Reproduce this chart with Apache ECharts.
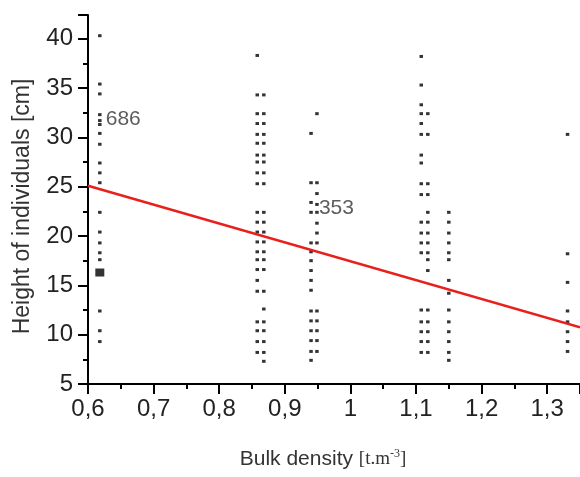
<!DOCTYPE html>
<html>
<head>
<meta charset="utf-8">
<script src="https://cdn.jsdelivr.net/npm/echarts/dist/echarts.min.js"></script>
<style>
  html, body { margin: 0; padding: 0; background: #fff; }
  #chart { width: 580px; height: 477px; }
</style>
</head>
<body>
<div id="chart"></div>
<script>
// bulk density columns (x) and the heights (y)
var col062X = 0.618;
var col062Y = [40.3, 35.4, 34.4, 32.3, 31.7, 31.3, 30.4, 29.3, 27.4, 26.4, 25.4, 22.4, 20.4, 19.3, 18.3, 17.6, 12.4, 10.4, 9.3];
var col086aX = 0.858;
var col086aY = [38.3, 34.3, 32.4, 31.4, 30.3, 29.4, 28.2, 27.5, 26.4, 25.3, 22.4, 21.4, 20.4, 19.4, 18.4, 17.6, 16.6, 15.5, 14.4, 11.3, 10.4, 9.3, 8.2];
var col086bX = 0.868;
var col086bY = [34.3, 32.4, 31.4, 30.3, 29.4, 28.2, 27.5, 26.4, 25.3, 22.4, 21.4, 20.4, 19.4, 18.4, 17.6, 16.6, 14.4, 12.6, 11.3, 10.4, 9.3, 8.2, 7.3];
var col094aX = 0.940;
var col094aY = [30.4, 25.4, 23.4, 22.4, 19.3, 18.4, 17.5, 16.5, 15.5, 14.5, 12.4, 11.4, 10.4, 9.4, 8.3, 7.4];
var col094bX = 0.949;
var col094bY = [32.4, 25.4, 24.3, 23.2, 22.4, 21.3, 20.3, 19.3, 12.4, 11.4, 10.4, 9.4, 8.3];
var col111aX = 1.108;
var col111aY = [38.2, 35.3, 33.3, 32.4, 31.4, 30.3, 28.2, 27.4, 25.3, 24.2, 21.4, 20.3, 19.3, 18.3, 12.5, 11.3, 10.3, 9.3, 8.2];
var col111bX = 1.118;
var col111bY = [32.4, 30.3, 25.3, 24.2, 22.4, 21.4, 20.3, 19.3, 18.3, 17.6, 16.5, 12.5, 11.3, 10.3, 9.3, 8.2];
var col115X = 1.150;
var col115Y = [22.4, 21.4, 20.3, 19.3, 18.3, 17.6, 15.5, 14.2, 12.5, 11.3, 10.3, 9.3, 8.2, 7.4];
var col133X = 1.331;
var col133Y = [30.3, 18.2, 15.3, 12.4, 11.3, 10.3, 9.3, 8.3];

// overlapping points drawn as one big square
var denseX = [0.618];
var denseY = [16.3];

// regression line end points
var fitX = [0.6, 1.35];
var fitY = [25.1, 10.75];

// sample counts written in the plot
var noteX = [0.627, 0.952];
var noteY = [31.8, 22.8];
var noteText = ['686', '353'];

var columns = [
    [col062X, col062Y], [col086aX, col086aY], [col086bX, col086bY],
    [col094aX, col094aY], [col094bX, col094bY], [col111aX, col111aY],
    [col111bX, col111bY], [col115X, col115Y], [col133X, col133Y]
];
var points = [];
columns.forEach(function (c) {
    c[1].forEach(function (y) { points.push([c[0], y]); });
});

function comma(v) {
    return String(+v.toFixed(2)).replace('.', ',');
}

var chart = echarts.init(document.getElementById('chart'));
chart.setOption({
    animation: false,
    grid: { left: 88, right: 0, top: 15, bottom: 93, outerBoundsMode: 'none' },
    xAxis: {
        type: 'value',
        min: 0.6, max: 1.35, interval: 0.1,
        name: '{a|Bulk density }{b|[t.m}{c|-3}{b|]}',
        nameLocation: 'middle',
        nameGap: 64,
        nameTextStyle: {
            padding: [0, 22, 0, 0],
            rich: {
                a: { fontFamily: 'Liberation Sans', fontSize: 21, color: '#333' },
                b: { fontFamily: 'Liberation Serif', fontSize: 19, color: '#333' },
                c: { fontFamily: 'Liberation Serif', fontSize: 12, color: '#333', padding: [0, 0, 10, 0] }
            }
        },
        splitLine: { show: false },
        axisLine: { lineStyle: { color: '#000', width: 2 } },
        axisTick: { length: 10, inside: false, lineStyle: { color: '#000', width: 2 } },
        minorTick: { show: true, splitNumber: 2, length: 5, lineStyle: { color: '#000', width: 2 } },
        axisLabel: {
            margin: 13, fontSize: 24, fontFamily: 'Liberation Sans', color: '#222',
            showMaxLabel: false, formatter: comma
        }
    },
    yAxis: {
        type: 'value',
        min: 5, max: 42.4, interval: 5,
        name: 'Height of individuals [cm]',
        nameLocation: 'middle',
        nameGap: 54,
        nameTextStyle: { fontFamily: 'Liberation Sans', fontSize: 23, color: '#333', padding: [0, 14, 0, 0] },
        splitLine: { show: false },
        axisLine: { show: true, lineStyle: { color: '#000', width: 2 } },
        axisTick: { show: true, length: 10, lineStyle: { color: '#000', width: 2 } },
        minorTick: { show: true, splitNumber: 2, length: 5, lineStyle: { color: '#000', width: 2 } },
        axisLabel: {
            margin: 15, fontSize: 24, fontFamily: 'Liberation Sans', color: '#222',
            showMaxLabel: false
        }
    },
    series: [
        {
            type: 'scatter',
            symbol: 'rect',
            symbolSize: [3.5, 3],
            itemStyle: { color: '#000' },
            data: points
        },
        {
            type: 'scatter',
            symbol: 'rect',
            symbolSize: [9, 8],
            itemStyle: { color: '#000' },
            data: denseX.map(function (x, i) { return [x, denseY[i]]; })
        },
        {
            type: 'line',
            symbol: 'none',
            lineStyle: { color: '#e8201c', width: 2.5 },
            data: fitX.map(function (x, i) { return [x, fitY[i]]; }),
            z: 3
        },
        {
            type: 'scatter',
            symbolSize: 0,
            data: noteX.map(function (x, i) { return [x, noteY[i], noteText[i]]; }),
            label: {
                show: true, position: 'right', distance: 0,
                fontFamily: 'Liberation Sans', fontSize: 21, color: '#333',
                formatter: function (p) { return p.value[2]; }
            },
            z: 4
        }
    ]
});
</script>
</body>
</html>
